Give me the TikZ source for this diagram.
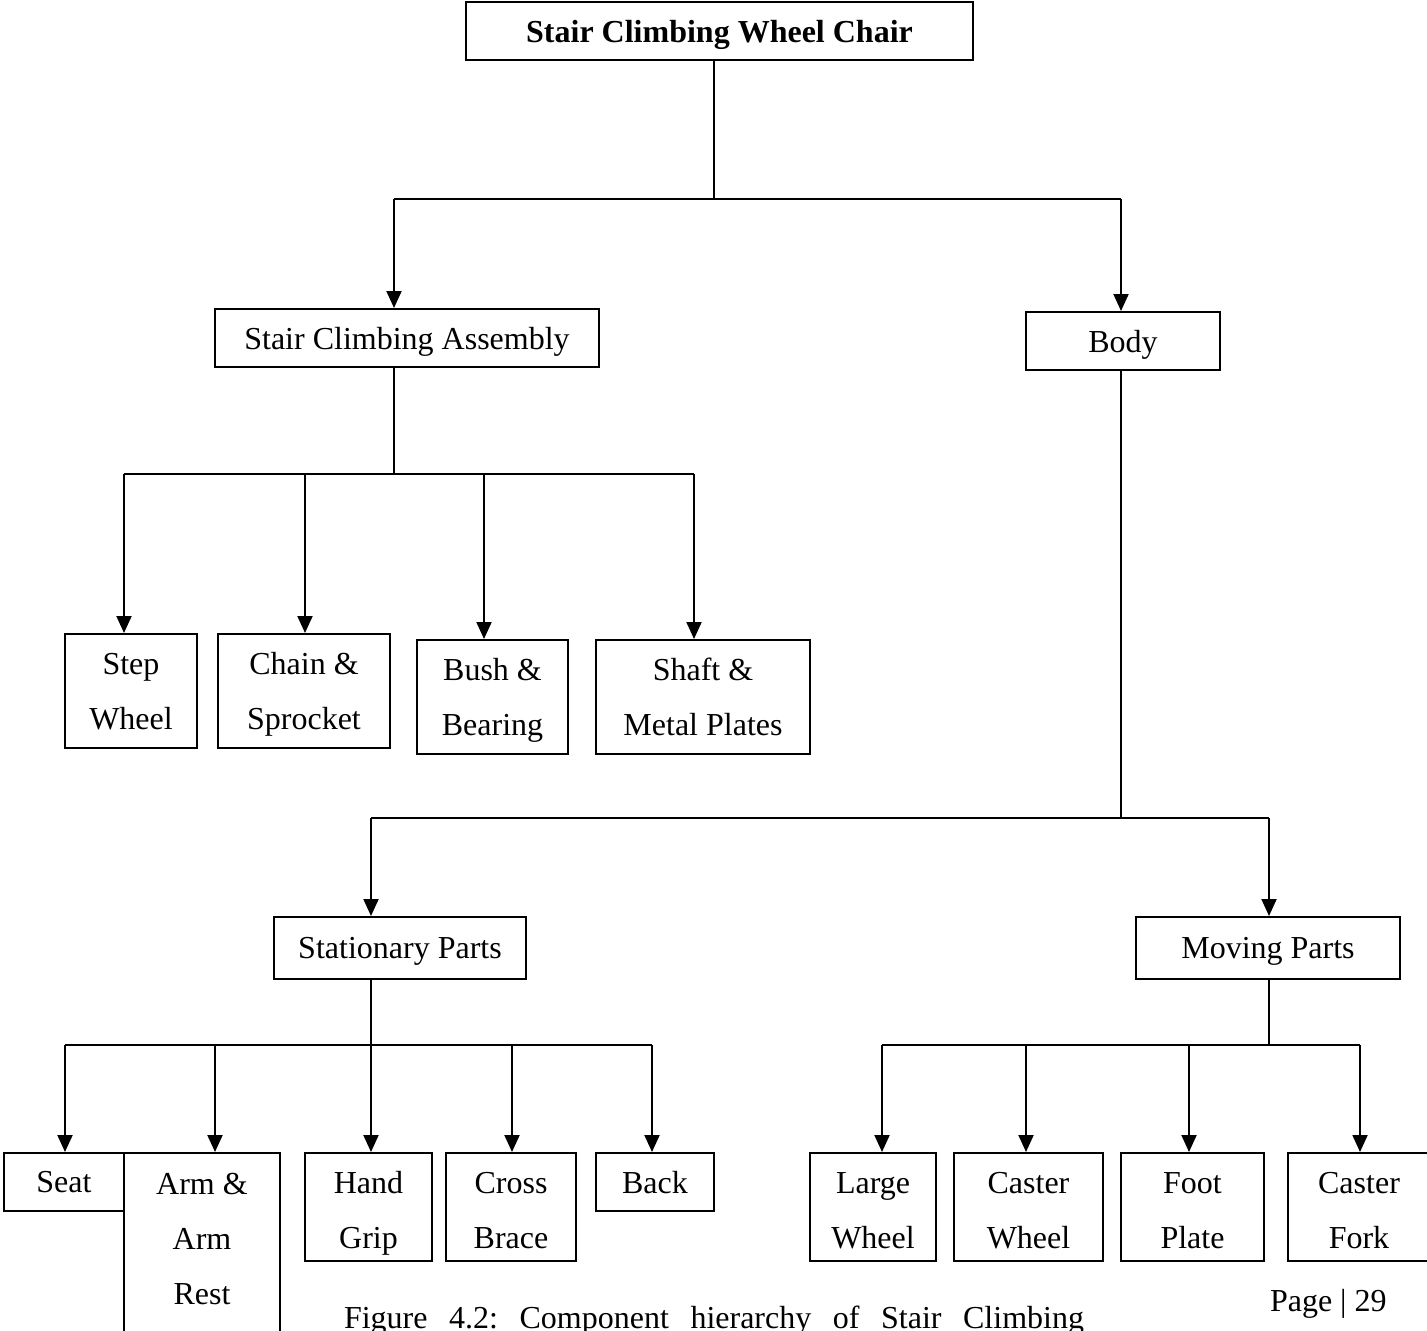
\documentclass[tikz,border=0pt]{standalone}
\usepackage{fontspec}
\setmainfont{Liberation Serif}
\usetikzlibrary{arrows.meta}

\tikzset{
	part/.style={draw, line width=1pt, inner sep=0pt, align=center, text depth=0pt,
		font=\fontsize{16}{27.5}\selectfont},
	upper/.style={part, minimum height=57pt},
	lower/.style={part, minimum height=54pt, text height=41.5pt},
	link/.style={line width=1pt},
}

\begin{document}
\begin{tikzpicture}[x=0.5pt, y=-0.5pt, link, >={Triangle[width=7.5pt,length=8.5pt]}]
		\useasboundingbox (0,0) rectangle (1427,1330);
		\clip (0,0) rectangle (1427,1330);
		% top
		\node[part, minimum width=253.5pt, minimum height=29pt, font=\fontsize{16}{20}\selectfont\bfseries] (chair) at (719.5,31) {Stair Climbing Wheel Chair};
		\node[part, minimum width=192pt, minimum height=29pt] (assembly) at (407,338) {Stair Climbing Assembly};
		\node[part, minimum width=97pt, minimum height=29pt] (body) at (1123,341) {Body};
		% assembly parts
		\node[upper, minimum width=66pt] (stepwheel) at (131,691) {Step\\Wheel};
		\node[upper, minimum width=86pt] (chain) at (304,691) {Chain \&\\Sprocket};
		\node[upper, minimum width=75.5pt] (bush) at (492.5,697) {Bush \&\\Bearing};
		\node[upper, minimum width=107pt] (shaft) at (703,697) {Shaft \&\\Metal Plates};
		% body parts
		\node[part, minimum width=126pt, minimum height=31pt] (stationary) at (400,948) {Stationary Parts};
		\node[part, minimum width=132pt, minimum height=31pt] (moving) at (1268,948) {Moving Parts};
		\node[part, minimum width=60pt, minimum height=29pt] (seat) at (64,1182) {Seat};
		\node[part, minimum width=78pt, minimum height=113pt] (arm) at (202,1266) {Arm \&\\Arm\\Rest\\\phantom{Rest}};
		\node[lower, minimum width=63.5pt] (grip) at (368.5,1207) {Hand\\Grip};
		\node[lower, minimum width=65pt] (brace) at (511,1207) {Cross\\Brace};
		\node[part, minimum width=59pt, minimum height=29pt] (back) at (655,1182) {Back};
		\node[lower, minimum width=63pt] (largewheel) at (873,1207) {Large\\Wheel};
		\node[lower, minimum width=74.5pt] (casterwheel) at (1028.5,1207) {Caster\\Wheel};
		\node[lower, minimum width=71.5pt] (footplate) at (1192.5,1207) {Foot\\Plate};
		\node[lower, minimum width=71pt] (casterfork) at (1359,1207) {Caster\\Fork};
		% bars
		\coordinate (j0) at (714,199);
		\coordinate (j0l) at (394,199);
		\coordinate (j0r) at (1121,199);
		\draw (chair.south -| j0) -- (j0);
		\draw (j0l) -- (j0r);
		\draw[->] (j0l) -- (j0l |- assembly.north);
		\draw[->] (j0r) -- (j0r |- body.north);
		\coordinate (j1) at (394,474);
		\coordinate (j1l) at (124,474);
		\coordinate (j1r) at (694,474);
		\draw (assembly.south -| j1) -- (j1);
		\draw (j1l) -- (j1r);
		\draw[->] (j1l) -- (j1l |- stepwheel.north);
		\draw[->] (305,474) -- (305,474 |- chain.north);
		\draw[->] (484,474) -- (484,474 |- bush.north);
		\draw[->] (j1r) -- (j1r |- shaft.north);
		\coordinate (j2) at (1121,818);
		\coordinate (j2l) at (371,818);
		\coordinate (j2r) at (1269,818);
		\draw (body.south -| j2) -- (j2);
		\draw (j2l) -- (j2r);
		\draw[->] (j2l) -- (j2l |- stationary.north);
		\draw[->] (j2r) -- (j2r |- moving.north);
		\coordinate (j3) at (371,1045);
		\coordinate (j3l) at (65,1045);
		\coordinate (j3r) at (652,1045);
		\draw (stationary.south -| j3) -- (j3);
		\draw (j3l) -- (j3r);
		\draw[->] (j3l) -- (j3l |- seat.north);
		\draw[->] (215,1045) -- (215,1045 |- arm.north);
		\draw[->] (j3) -- (j3 |- grip.north);
		\draw[->] (512,1045) -- (512,1045 |- brace.north);
		\draw[->] (j3r) -- (j3r |- back.north);
		\coordinate (j4) at (1269,1045);
		\coordinate (j4l) at (882,1045);
		\coordinate (j4r) at (1360,1045);
		\draw (moving.south -| j4) -- (j4);
		\draw (j4l) -- (j4r);
		\draw[->] (j4l) -- (j4l |- largewheel.north);
		\draw[->] (1026,1045) -- (1026,1045 |- casterwheel.north);
		\draw[->] (1189,1045) -- (1189,1045 |- footplate.north);
		\draw[->] (j4r) -- (j4r |- casterfork.north);
		% page text
		\node[anchor=base west, inner sep=0pt, font=\fontsize{16}{20}\selectfont\frenchspacing] (caption) at (343,1328) {\makebox[370pt][s]{Figure 4.2: Component hierarchy of Stair Climbing}};
		\node[anchor=base west, inner sep=0pt, font=\fontsize{16}{20}\selectfont] (page) at (1269,1311) {Page | 29};
	\end{tikzpicture}
\end{document}
